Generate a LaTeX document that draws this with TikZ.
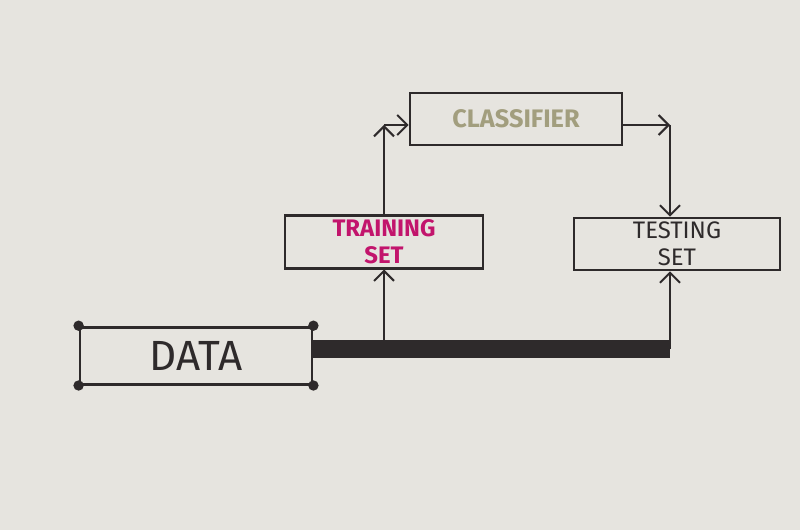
\documentclass[tikz,border=0pt]{standalone}
\usepackage{fontspec}
\setmainfont{Fira Sans}
\usetikzlibrary{positioning,arrows.meta}

\definecolor{paper}{HTML}{E6E4DF}
\definecolor{ink}{HTML}{2E2A2B}
\definecolor{pinkink}{HTML}{C2146C}
\definecolor{oliveink}{HTML}{A29E7E}

\begin{document}
\begin{tikzpicture}[
box/.style={
  draw=ink,
  line width=2pt,
  rectangle,
  inner sep=0pt,
  align=center
  },
wire/.style={
  draw=ink,
  line width=1.4pt
  },
corner/.style={
  fill=ink,
  circle,
  inner sep=0pt,
  minimum size=0.26cm
  },
>={Straight Barb[length=2.5mm,width=5mm,line width=1.4pt]}
]
\fill[paper] (0,0) rectangle (20,13.25);
\useasboundingbox (0,0) rectangle (20,13.25);

\node[box, minimum width=5.8cm, minimum height=1.425cm, text=ink,
  font=\fontsize{30}{30}\selectfont] (data) at (4.9,4.36) {DATA};
\node[box, minimum width=4.95cm, minimum height=1.325cm, text=pinkink,
  font=\fontsize{17}{19}\selectfont\bfseries] (train) at (9.6,7.21) {TRAINING\\SET};
\node[box, minimum width=5.3cm, minimum height=1.3cm, text=oliveink,
  font=\fontsize{18}{20}\selectfont\bfseries] (clf) at (12.9,10.275) {CLASSIFIER};
\node[box, minimum width=5.15cm, minimum height=1.3cm, text=ink,
  font=\fontsize{17}{19}\selectfont] (test) at (16.925,7.15) {TESTING\\SET};

% dots on the data box
\foreach \c in {north west,north east,south west,south east}
  \node[corner] (dot-\c) at (data.\c) {};

% the split bar
\coordinate (barL) at (data.east |- 0,4.525);
\coordinate (barR) at (16.75,4.525);
\draw[ink, line width=13pt] (barL) -- (barR);

% up to the two sets
\draw[wire,->] (train.south |- barR) -- (train.south);
\draw[wire,->] (barR) -- (barR |- test.south);

% training set to classifier
\coordinate (up) at (train.north |- 0,10.125);
\draw[wire,->] (train.north) -- (up);
\draw[wire,->] (up) -- (up -| clf.west);

% classifier to testing set
\coordinate (down) at (barR |- up);
\draw[wire,->] (clf.east |- down) -- (down);
\draw[wire,->] (down) -- (down |- test.north);
\end{tikzpicture}
\end{document}
